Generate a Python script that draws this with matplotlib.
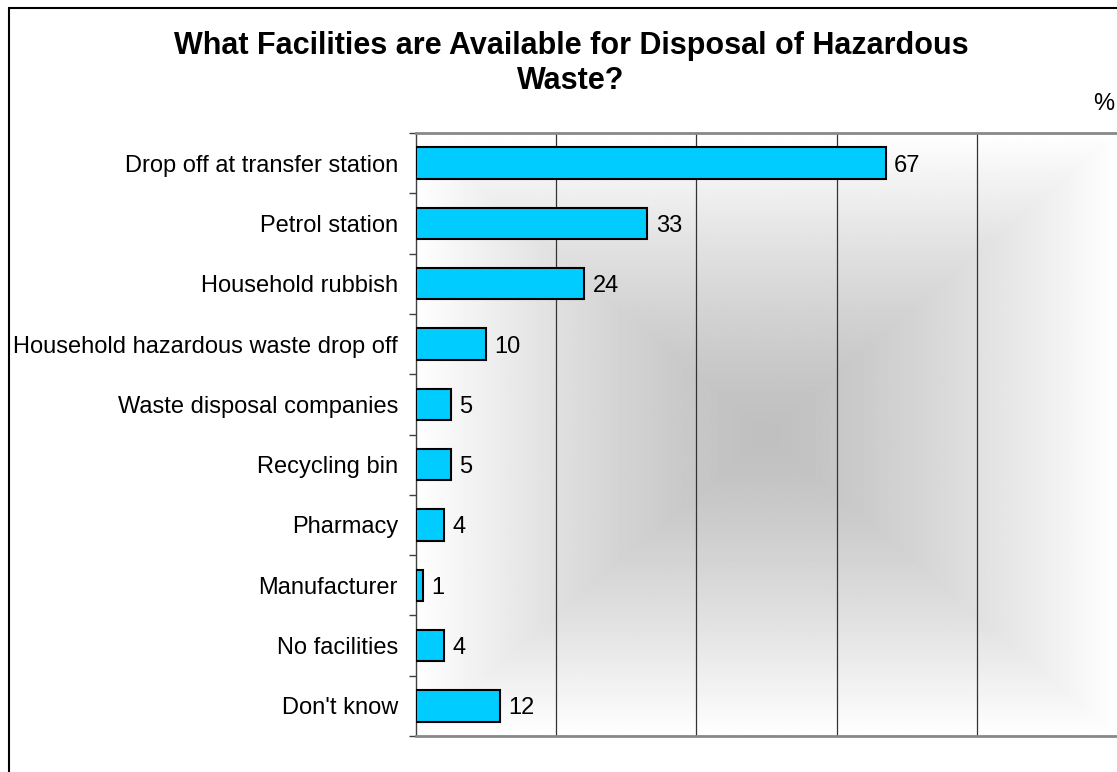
import numpy as np
import matplotlib.pyplot as plt
from matplotlib.patches import Rectangle

plt.rcParams['font.family'] = ['Liberation Sans', 'DejaVu Sans']

# data
categories = ["Drop off at transfer station", "Petrol station", "Household rubbish",
              "Household hazardous waste drop off", "Waste disposal companies",
              "Recycling bin", "Pharmacy", "Manufacturer", "No facilities", "Don't know"]
values = [67, 33, 24, 10, 5, 5, 4, 1, 4, 12]

W, H = 1117, 772
fig = plt.figure(figsize=(W / 100, H / 100), dpi=100)

# outer chart border (cut off on right and bottom like the original)
fig.patches.append(Rectangle((9 / W, -0.05), 1.2, 1 - 8 / H + 0.05, transform=fig.transFigure,
                             fill=False, edgecolor='black', linewidth=1.5))

ax = fig.add_axes([416 / W, 1 - 736 / H, (1117 - 416) / W, (736 - 133) / H])

# rectangular "from center" gradient for the plot area
n = 400
u = np.linspace(-1, 1, n)
uu, vv = np.meshgrid(u, u)
t = np.maximum(np.abs(uu), np.abs(vv))
shade = 0.75 + (1.0 - 0.75) * t ** 1.3
ax.imshow(shade, cmap='gray', vmin=0, vmax=1, extent=[0, 100, 9.5, -0.5],
          aspect='auto', zorder=0, interpolation='bilinear')

pos = np.arange(len(categories))
ax.barh(pos, values, height=0.52, color='#00CCFF', edgecolor='black', linewidth=1.5, zorder=3)
for p, v in zip(pos, values):
    ax.annotate(str(v), (v, p), xytext=(6, 0), textcoords='offset points',
                va='center_baseline', ha='left', fontsize=17)

ax.set_xlim(0, 100)
ax.set_ylim(9.5, -0.5)
ax.set_xticks([20, 40, 60, 80])
ax.set_xticklabels([])
ax.tick_params(axis='x', length=0)
ax.grid(axis='x', color='#333333', linewidth=0.9, zorder=1)

ax.set_yticks(pos)
ax.set_yticklabels(categories, fontsize=17)
ax.set_yticks(np.arange(-0.5, 10, 1), minor=True)
ax.tick_params(axis='y', which='major', length=0, pad=13)
ax.tick_params(axis='y', which='minor', length=5, width=1, color='#404040', direction='out')

ax.spines['right'].set_visible(False)
ax.spines['left'].set_color('#404040')
ax.spines['left'].set_linewidth(1)
for s in ['top', 'bottom']:
    ax.spines[s].set_color('#888888')
    ax.spines[s].set_linewidth(2)

fig.text(571 / W, 1 - 46 / H, "What Facilities are Available for Disposal of Hazardous",
         ha='center', va='center', fontsize=22, fontweight='bold')
fig.text(571 / W, 1 - 81 / H, "Waste?", ha='center', va='center', fontsize=22, fontweight='bold')
fig.text(1104 / W, 1 - 104 / H, "%", ha='center', va='center', fontsize=17)

fig.savefig('out.png', dpi=100)
